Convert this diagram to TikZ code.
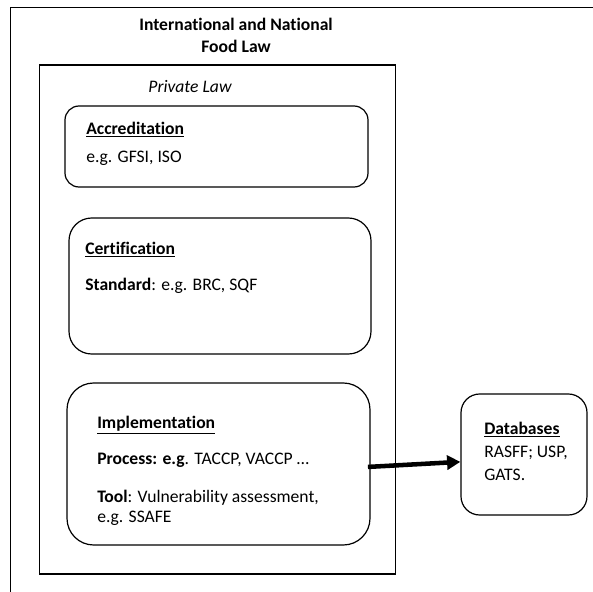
\documentclass[tikz,border=0pt]{standalone}
\usepackage{fontspec}
\setmainfont{Carlito}[Ligatures=NoCommon]
\usetikzlibrary{arrows.meta,fit}
\begin{document}
\begin{tikzpicture}[x=0.75pt,y=-0.75pt,
  frame/.style={draw, line width=0.9pt, inner sep=0pt},
  rbox/.style={draw, line width=0.9pt, inner sep=0pt, rounded corners=#1},
  txt/.style={anchor=base west, inner sep=0pt, font=\fontsize{13.2}{16.5}\selectfont},
  ctxt/.style={anchor=base, inner sep=0pt, font=\fontsize{13.2}{16.5}\selectfont},
  bigarrow/.style={line width=3.4pt, -{Triangle[length=10pt,width=10.5pt]}}]
\useasboundingbox (0,0) rectangle (593,592);
% outer frame (only top and left edges visible)
\draw[line width=1pt] (10.5,592) -- (10.5,7.5) -- (593,7.5);
\node[align=center, inner sep=0pt, font=\fontsize{13.2}{16.5}\selectfont\bfseries] (title) at (236,35.5) {International and National\\Food Law};
% private law frame
\node[frame, fit={(39.5,65) (395.5,574)}] (private) {};
\node[ctxt, font=\fontsize{13.2}{16.5}\selectfont\itshape] (privlabel) at (190,93) {Private Law};
% accreditation
\node[rbox=10.5pt, fit={(65,106) (368,187)}] (accr) {};
\node[txt] (accrT) at (86,134.5) {\textbf{\underline{Accreditation}}};
\node[txt] (accrB) at (86,162) {e.g. GFSI, ISO};
% certification
\node[rbox=17pt, fit={(69,218) (371,354)}] (cert) {};
\node[txt] (certT) at (85,254.5) {\textbf{\underline{Certification}}};
\node[txt] (certB) at (85,290.5) {\textbf{Standard}: e.g. BRC, SQF};
% implementation
\node[rbox=20pt, fit={(67,383) (370,545)}] (impl) {};
\node[txt] (implT) at (97,428.5) {\textbf{\underline{Implementation}}};
\node[txt] (implP) at (97,464) {\textbf{Process: e.g}. TACCP, VACCP …};
\node[txt] (implA) at (97,502) {\textbf{Tool}: Vulnerability assessment,};
\node[txt] (implB) at (97,522) {e.g. SSAFE};
% databases
\node[rbox=14pt, fit={(461,394) (587,515)}] (db) {};
\node[txt] (dbT) at (484,434.5) {\textbf{\underline{Databases}}};
\node[txt] (dbA) at (484,457.5) {RASFF; USP,};
\node[txt] (dbB) at (484,480.5) {GATS.};
% connector
\draw[bigarrow] ([xshift=-2pt,yshift=-2.2pt]impl.east) -- ([yshift=-5.5pt]db.west);
\end{tikzpicture}
\end{document}
